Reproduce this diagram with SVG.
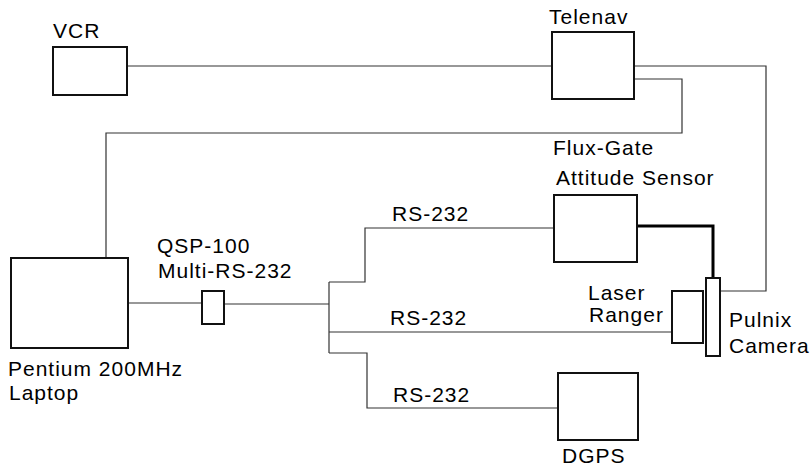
<svg xmlns="http://www.w3.org/2000/svg" width="810" height="467" viewBox="0 0 810 467">
<style>
.box{fill:#fff;stroke:#111;stroke-width:2}
.ln{fill:none;stroke:#333;stroke-width:1.2}
.thick{fill:none;stroke:#000;stroke-width:3}
text{font-family:"Liberation Sans",Arial,sans-serif;font-size:21px;letter-spacing:1px;fill:#000}
</style>
<rect width="810" height="467" fill="#fff"/>
<g id="connectors">
<polyline class="ln" points="127,66 552,66"/>
<polyline class="ln" points="634,66 766,66 766,291 720,291"/>
<polyline class="ln" points="634,79 682,79 682,133 106,133 106,258"/>
<polyline class="ln" points="128,303 202,303"/>
<polyline class="ln" points="224,304 329,304"/>
<polyline class="ln" points="329,282 329,353"/>
<polyline class="ln" points="329,282 365,282 365,228 554,228"/>
<polyline class="ln" points="329,332 672,332"/>
<polyline class="ln" points="329,353 367,353 367,408 557,408"/>
<polyline class="thick" points="637,226 713,226 713,278"/>
</g>
<g id="vcr"><rect class="box" x="53" y="47" width="74" height="48"/><text x="53" y="38">VCR</text></g>
<g id="telenav"><rect class="box" x="552" y="32" width="82" height="67"/><text x="549" y="24">Telenav</text></g>
<g id="laptop"><rect class="box" x="11" y="258" width="117" height="90"/><text x="8" y="376">Pentium 200MHz</text><text x="9" y="400">Laptop</text></g>
<g id="qsp"><rect class="box" x="202" y="291" width="22" height="33"/><text x="157" y="253">QSP-100</text><text x="158" y="278">Multi-RS-232</text></g>
<g id="attitude"><rect class="box" x="554" y="195" width="83" height="67"/><text x="553" y="155">Flux-Gate</text><text x="556" y="185">Attitude Sensor</text></g>
<g id="laser"><rect class="box" x="672" y="291" width="31" height="52"/><text x="588" y="300">Laser</text><text x="589" y="322">Ranger</text></g>
<g id="camera"><rect class="box" x="706" y="278" width="14" height="78" stroke-width="1.2"/><text x="729" y="327">Pulnix</text><text x="729" y="353">Camera</text></g>
<g id="dgps"><rect class="box" x="558" y="373" width="80" height="67"/><text x="562" y="463">DGPS</text></g>
<g id="labels"><text x="392" y="221">RS-232</text><text x="390" y="325">RS-232</text><text x="393" y="402">RS-232</text></g>
</svg>
